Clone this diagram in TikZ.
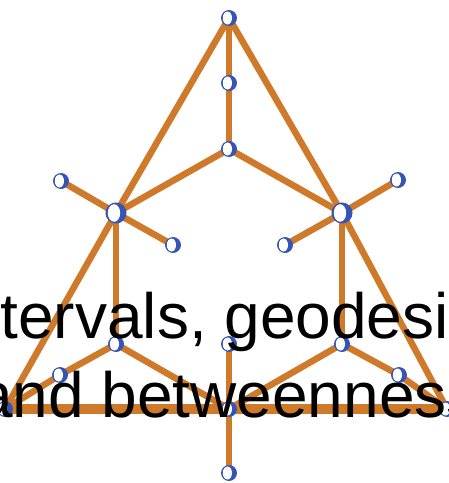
\documentclass[tikz,border=0pt]{standalone}
\usepackage{fontspec}
\setmainfont{Liberation Sans}
\usetikzlibrary{backgrounds}
\definecolor{edgeor}{RGB}{206,122,42}
\definecolor{vblue}{RGB}{52,84,182}
\tikzset{
  edge/.style={draw=edgeor,line width=6.5pt},
  thickedge/.style={draw=edgeor,line width=10pt},
  vtx/.style={circle,inner sep=0pt,minimum size=15pt,fill=white,draw=vblue,line width=0.9pt,
    path picture={\fill[vblue] (path picture bounding box.south west) rectangle (path picture bounding box.north east);
      \fill[white] ([xshift=-1.6pt]path picture bounding box.center) ellipse [x radius=4.6pt,y radius=6.6pt];}},
  hub/.style={circle,inner sep=0pt,minimum size=20pt,fill=white,draw=vblue,line width=1pt,
    path picture={\fill[vblue] (path picture bounding box.south west) rectangle (path picture bounding box.north east);
      \fill[white] ([xshift=-2pt]path picture bounding box.center) ellipse [x radius=6.2pt,y radius=8.8pt];}},
  title/.style={anchor=base,font=\fontsize{64}{79}\selectfont,text=black,inner sep=0pt}
}
\begin{document}
\begin{tikzpicture}[x=1pt,y=-1pt]
\useasboundingbox (0,0) rectangle (449,483);
\node[vtx] (a) at (229,18) {};
\node[vtx] (b) at (229,83) {};
\node[vtx] (c) at (229,149) {};
\node[hub] (lh) at (116,213) {};
\node[hub] (rh) at (342,213) {};
\node[vtx] (ll1) at (61,181) {};
\node[vtx] (ll2) at (173,245) {};
\node[vtx] (rl1) at (398,180) {};
\node[vtx] (rl2) at (285,245) {};
\node[vtx] (llo) at (116,344) {};
\node[vtx] (rlo) at (342,344) {};
\node[vtx] (cm) at (229,344) {};
\node[vtx] (bc) at (229,409) {};
\node[vtx] (bb) at (229,473) {};
\node[vtx] (lc) at (5,409) {};
\node[vtx] (rc) at (447,409) {};
\node[vtx] (lm) at (60,375) {};
\node[vtx] (rm) at (399,375) {};
\begin{scope}[on background layer]
\draw[thickedge] (lc.center) -- (bc.center) -- (rc.center);
\draw[edge] (a.center) -- (b.center) -- (c.center);
\draw[edge] (a.center) -- (lh.center) -- (lc.center);
\draw[edge] (a.center) -- (rh.center) -- (rc.center);
\draw[edge] (c.center) -- (lh.center);
\draw[edge] (c.center) -- (rh.center);
\draw[edge] (lh.center) -- (ll1.center);
\draw[edge] (lh.center) -- (ll2.center);
\draw[edge] (rh.center) -- (rl1.center);
\draw[edge] (rh.center) -- (rl2.center);
\draw[edge] (lh.center) -- (llo.center);
\draw[edge] (rh.center) -- (rlo.center);
\draw[edge] (lc.center) -- (lm.center) -- (llo.center);
\draw[edge] (rc.center) -- (rm.center) -- (rlo.center);
\draw[edge] (llo.center) -- (bc.center);
\draw[edge] (rlo.center) -- (bc.center);
\draw[edge] (cm.center) -- (bc.center) -- (bb.center);
\end{scope}
\node[title] (t1) at (230,338) {Intervals, geodesics};
\node[title] (t2) at (228,417) {and betweenness};
\end{tikzpicture}
\end{document}
